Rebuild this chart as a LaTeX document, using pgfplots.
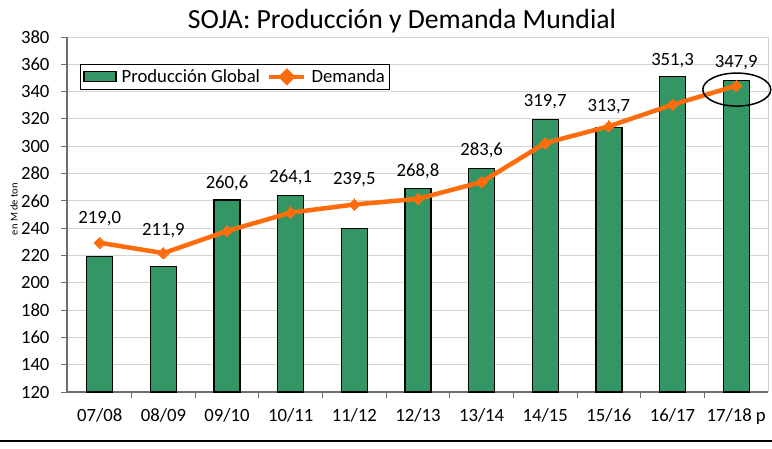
\documentclass[border=0pt]{standalone}
\usepackage{fontspec}
\setmainfont{Carlito}
\usepackage{pgfplots}
\pgfplotsset{compat=1.18}
\definecolor{barg}{RGB}{52,150,100}
\definecolor{dorange}{RGB}{255,108,12}
\definecolor{gridc}{RGB}{212,212,212}
\definecolor{axc}{RGB}{110,110,110}
\newcommand\tickfont{\fontsize{18.7}{22}\selectfont}
\pgfplotsset{/pgf/number format/assume math mode=true}
\begin{document}
\begin{tikzpicture}[x=1pt,y=1pt]
\path[use as bounding box] (0,0) rectangle (772,448);
\node[anchor=base, font=\fontsize{27.7}{32}\selectfont] at (402,419.5) {SOJA: Producción y Demanda Mundial};
\node[rotate=90, font=\fontsize{10.5}{12}\selectfont] at (14,239) {en M de ton};
\draw[black, line width=2pt] (0,7) -- (772,7);
\draw[gridc, line width=1pt] (768,56) -- (768,411);
\begin{axis}[
  at={(67pt,56pt)}, anchor=south west,
  scale only axis, width=701pt, height=355pt,
  xmin=-0.515, xmax=10.5, ymin=120, ymax=380,
  clip=false,
  axis x line*=bottom, axis y line*=left,
  axis line style={axc, line width=1.3pt},
  ytick={120,140,...,380},
  yticklabel style={font=\tickfont, xshift=-8pt},
  ymajorgrids, grid style={gridc, line width=0.9pt},
  xtick={0.5,1.5,...,9.5}, xticklabels={},
  extra x ticks={0,1,...,10},
  extra x tick labels={07/08,08/09,09/10,10/11,11/12,12/13,13/14,14/15,15/16,16/17,17/18 p},
  extra x tick style={major tick length=0pt, grid=none, xticklabel style={font=\tickfont, yshift=-13pt}},
  tick align=outside, major tick length=6pt,
  tick style={axc, line width=1pt},
  legend columns=2,
  legend style={at={(0.0185,0.925)}, anchor=north west, draw=black, line width=1pt, fill=white,
    font=\tickfont, inner xsep=3pt, inner ysep=3.5pt,
    /tikz/every odd column/.append style={column sep=3pt},
    /tikz/every even column/.append style={column sep=5pt}},
]
\addplot[ybar, bar width=26pt, fill=barg, draw=black, line width=1.2pt,
  legend image code/.code={\draw[fill=barg, draw=black, line width=1.2pt] (0pt,-5pt) rectangle (32pt,5.5pt);}]
  coordinates {(0,219.0) (1,211.9) (2,260.6) (3,264.1) (4,239.5) (5,268.8) (6,283.6) (7,319.7) (8,313.7) (9,351.3) (10,347.9)};
\addlegendentry{Producción Global}
\addplot[dorange, line width=4.5pt, mark=square*, mark size=4pt, mark options={rotate=45, solid, line width=0pt},
  legend image code/.code={\draw[dorange, line width=4.5pt] (0pt,0pt) -- (35pt,0pt);
    \fill[dorange] (12pt,0pt) -- (17.5pt,5.5pt) -- (23pt,0pt) -- (17.5pt,-5.5pt) -- cycle;}]
  coordinates {(0,229.3) (1,221.7) (2,237.9) (3,251.4) (4,257.3) (5,261.5) (6,273.8) (7,302.3) (8,314.6) (9,330.4) (10,344.3)};
\addlegendentry{Demanda}
\addplot[draw=none, mark=none, forget plot, point meta=explicit,
  nodes near coords={\pgfmathprintnumber[fixed, fixed zerofill, precision=1, use comma]{\pgfplotspointmeta}},
  nodes near coords style={anchor=center, font=\tickfont, text=black}]
  coordinates {(0,247)[219.0] (1,238.4)[211.9] (2,272.7)[260.6] (3,277.1)[264.1] (4,275.9)[239.5] (5,281.9)[268.8] (6,297.1)[283.6] (7,332.8)[319.7] (8,329.1)[313.7] (9,363)[351.3] (10,361)[347.9]};
\draw[black, line width=1.5pt] (axis cs:10.01,341.5) ellipse [x radius=34pt, y radius=16.5pt];
\end{axis}
\end{tikzpicture}
\end{document}
